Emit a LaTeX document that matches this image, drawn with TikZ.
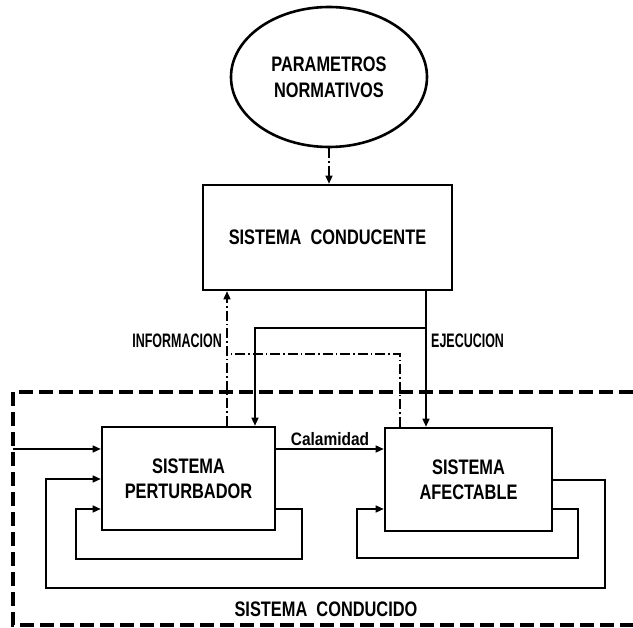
\documentclass[tikz,border=0pt]{standalone}
\usepackage{fontspec}
\setmainfont{Liberation Sans}
\newfontfamily\wideface{Liberation Sans}[FakeStretch=0.78]
\newfontfamily\narrowface{Liberation Sans}[FakeStretch=0.64]
\newfontfamily\lowerface{Liberation Sans}[FakeStretch=0.86]
\usetikzlibrary{shapes.geometric,arrows.meta}
\begin{document}
\begin{tikzpicture}[x=1pt,y=-1pt,
  box/.style={draw,line width=2.6pt,rectangle,inner sep=0pt,font=\wideface\fontsize{21}{25}\selectfont\bfseries,align=center},
  flow/.style={line width=1.4pt,-{Triangle[length=8pt,width=7pt]}},
  infoline/.style={line width=1.4pt,dash pattern=on 10pt off 3pt on 1.5pt off 3pt},
  border/.style={line width=3.4pt,dash pattern=on 14pt off 6pt},
  lbl/.style={font=\narrowface\fontsize{19.5}{22}\selectfont\bfseries,inner sep=1pt},
  big/.style={font=\wideface\fontsize{21}{25}\selectfont\bfseries,inner sep=1pt}]
\useasboundingbox (0,0) rectangle (633,628);

% blocks
\node[draw,ellipse,line width=2.6pt,minimum width=196pt,minimum height=140pt,
      font=\wideface\fontsize{21}{26}\selectfont\bfseries,align=center] (par) at (329,77)
      {PARAMETROS\\NORMATIVOS};
\node[box,minimum width=249pt,minimum height=105pt] (cond) at (327.5,237.5) {SISTEMA\ \ CONDUCENTE};
\node[box,minimum width=173pt,minimum height=103pt] (pert) at (188.5,478.5) {SISTEMA\\PERTURBADOR};
\node[box,minimum width=167pt,minimum height=103pt] (afec) at (468.5,479.5) {SISTEMA\\AFECTABLE};

% reference coordinates for the connector routes
\coordinate (xinfo) at (227,0);
\coordinate (xejec) at (426,0);
\coordinate (xbr) at (255,0);
\coordinate (xaf) at (400,0);
\coordinate (yinf) at (0,354);
\coordinate (yej) at (0,328);
\coordinate (ycal) at (0,449);
\coordinate (ybig) at (0,479);
\coordinate (yin) at (0,509);
\coordinate (inL) at (13,449);
\coordinate (bigR) at (605,480);
\coordinate (bigB) at (46,588);
\coordinate (pLoopR) at (302,559);
\coordinate (pLoopL) at (76,559);
\coordinate (aLoopR) at (578,558);
\coordinate (aLoopL) at (357,558);

% normative parameters feed the conducting system
\draw[flow,infoline] (par.south) -- (cond.north -| par.south);

% information and execution channels
\draw[flow,infoline] (pert.north -| xinfo) -- (cond.south -| xinfo);
\draw[infoline] (afec.north -| xaf) |- (xinfo |- yinf);
\draw[flow] (cond.south -| xejec) -- (afec.north -| xejec);
\draw[flow] (xejec |- yej) -| (pert.north -| xbr);

% calamity
\draw[flow] (pert.east |- ycal) -- node[font=\lowerface\fontsize{18}{20}\selectfont\bfseries,inner sep=1pt,above=2pt]{Calamidad} (afec.west |- ycal);

% inputs and feedback loops
\draw[flow] (inL) -- (pert.west |- ycal);
\draw[flow] (afec.east |- bigR) -- (bigR) |- (bigB) |- (pert.west |- ybig);
\draw[flow] (pert.east |- yin) -| (pLoopR) -- (pLoopL) |- (pert.west |- yin);
\draw[flow] (afec.east |- yin) -| (aLoopR) -- (aLoopL) |- (afec.west |- yin);

% boundary of the conducted system
\draw[border] (633,392) -- (13,392) -- (13,625) -- (633,625);

% labels
\node[lbl,anchor=east] (info) at (223,341) {INFORMACION};
\node[lbl,anchor=west] (ejec) at (430,341) {EJECUCION};
\node[big] (cdo) at (326,609) {SISTEMA\ \ CONDUCIDO};
\end{tikzpicture}
\end{document}
